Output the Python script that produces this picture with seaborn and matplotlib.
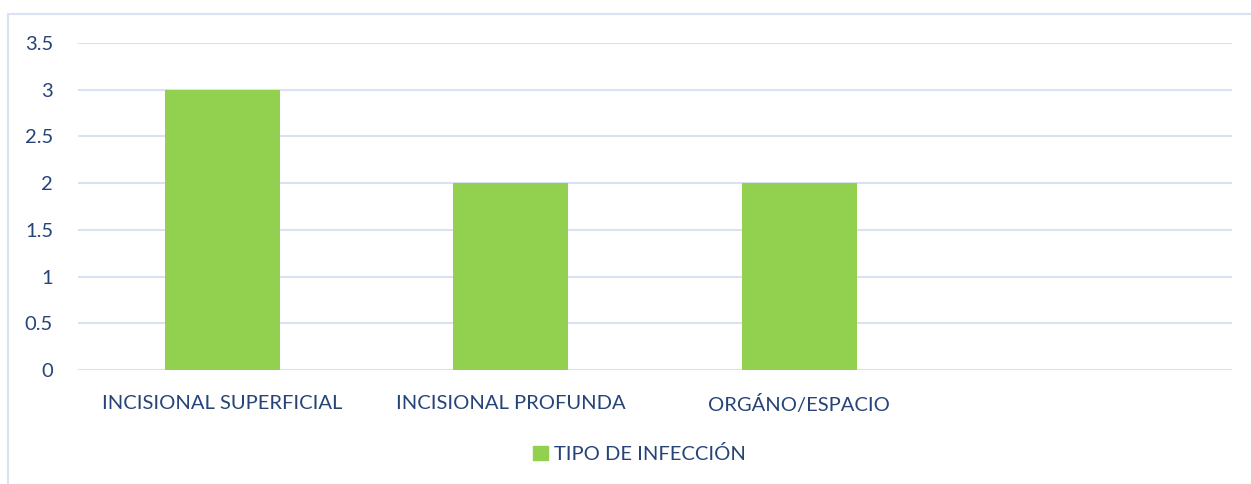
import numpy as np
import pandas as pd
import matplotlib
matplotlib.use("Agg")
import matplotlib.pyplot as plt
import matplotlib.patches as mpatches
import seaborn as sns

# data
categorias = ["INCISIONAL SUPERFICIAL", "INCISIONAL PROFUNDA", "ORGÁNO/ESPACIO", ""]
valores = [3, 2, 2, np.nan]
serie = "TIPO DE INFECCIÓN"
yticks = [0, 0.5, 1, 1.5, 2, 2.5, 3, 3.5]

verde = "#92d050"
texto = "#264478"
grid_c = "#d9e2f3"

sns.set_style("white")
plt.rcParams["font.family"] = ["Lato", "DejaVu Sans"]

df = pd.DataFrame({"cat": categorias, "val": valores, "serie": serie})

fig = plt.figure(figsize=(12.51, 4.84), dpi=100)
ax = fig.add_axes([78 / 1251, 1 - 370 / 484, (1232 - 78) / 1251, (370 - 43) / 484])

# chart frame
fig.patches.append(mpatches.Rectangle((8 / 1251, -0.1), 1.2, 0.1 + 1 - 14 / 484,
                                      transform=fig.transFigure, fill=False,
                                      edgecolor=grid_c, linewidth=1.5, zorder=0))

sns.barplot(data=df.dropna(), x="cat", y="val", hue="serie", order=categorias,
            palette=[verde], saturation=1, width=0.4, ax=ax, legend=False,
            zorder=3, edgecolor="none")

ax.set_ylim(0, 3.5)
ax.set_xlim(-0.5, 3.5)
ax.set_yticks(yticks)
ax.set_yticklabels(["0", "0.5", "1", "1.5", "2", "2.5", "3", "3.5"])
for y in yticks:
    ax.axhline(y, color=grid_c, linewidth=1.5, zorder=1)
for s in ax.spines.values():
    s.set_visible(False)
ax.tick_params(axis="y", length=0, pad=18, labelsize=14.5, labelcolor=texto)
ax.tick_params(axis="x", length=0, pad=18, labelsize=14.5, labelcolor=texto)
ax.set_xlabel("")
ax.set_ylabel("")

handle = mpatches.Patch(color=verde, label=serie)
fig.legend(handles=[handle], loc="center", bbox_to_anchor=(0.511, 1 - 454 / 484),
           frameon=False, fontsize=14.5, labelcolor=texto, handlelength=0.75,
           handleheight=0.75, handletextpad=0.3)

fig.savefig("out.png", dpi=100, facecolor="white")
